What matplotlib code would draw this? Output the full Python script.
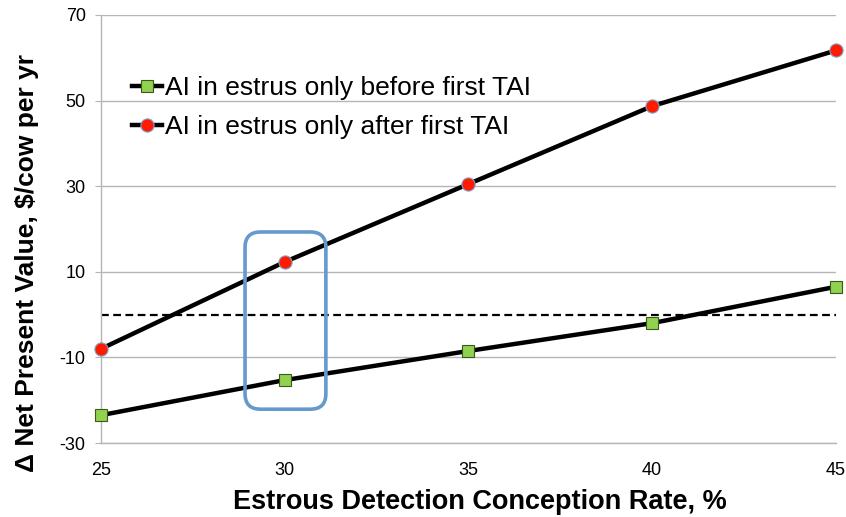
import matplotlib
matplotlib.use("Agg")
import matplotlib.pyplot as plt
from matplotlib.patches import FancyBboxPatch

plt.rcParams['font.family'] = ['Liberation Sans', 'DejaVu Sans']
plt.rcParams['axes.unicode_minus'] = False

rates = [25, 30, 35, 40, 45]
before_first_tai = [-23.5, -15.3, -8.5, -2.0, 6.5]
after_first_tai = [-8.0, 12.3, 30.5, 48.7, 61.7]
baseline = [0, 0]
yticks = [-30, -10, 10, 30, 50, 70]
xticks = [25, 30, 35, 40, 45]
labels = ["AI in estrus only before first TAI", "AI in estrus only after first TAI"]

fig = plt.figure(figsize=(8.46, 5.17), dpi=100)
ax = fig.add_axes([0.1194, 0.1431, 0.8686, 0.828])

ax.plot([rates[0], rates[-1]], baseline, color='black', lw=1.6, ls=(0, (3.5, 2)), zorder=2)
ax.plot(rates, before_first_tai, color='black', lw=3.2, marker='s', ms=8.5,
        mfc='#92d050', mec='#3a5a1a', mew=0.8, label=labels[0], zorder=3, clip_on=False)
ax.plot(rates, after_first_tai, color='black', lw=3.2, marker='o', ms=9.5,
        mfc='#ff1a00', mec='#7fa3d0', mew=0.8, label=labels[1], zorder=3, clip_on=False)

# highlight box
box = FancyBboxPatch((28.92, -22.1), 2.2, 41.4,
                     boxstyle="round,pad=0,rounding_size=0.42",
                     mutation_aspect=8.6, fill=False, ec='#6699cc', lw=2.6, zorder=4)
ax.add_patch(box)

ax.set_xlim(25, 45)
ax.set_ylim(-30, 70)
ax.set_yticks(yticks)
ax.set_xticks(xticks)
ax.yaxis.grid(True, color='#b5b5b5', lw=1.0)
ax.set_axisbelow(True)
for s in ['top', 'right']:
    ax.spines[s].set_visible(False)
ax.spines['left'].set_color('#b5b5b5')
ax.spines['bottom'].set_color('#b5b5b5')
ax.spines['left'].set_linewidth(1.0)
ax.spines['bottom'].set_linewidth(1.0)
ax.tick_params(axis='y', length=4, color='#b5b5b5', labelsize=13, pad=7)
ax.tick_params(axis='x', length=0, labelsize=13, pad=14)

ax.set_xlabel("Estrous Detection Conception Rate, %", fontsize=19.5, fontweight='bold')
ax.set_ylabel("Δ Net Present Value, $/cow per yr", fontsize=19, fontweight='bold')
ax.xaxis.set_label_coords(0.516, -0.108)
ax.yaxis.set_label_coords(-0.084, 0.42)

leg = ax.legend(loc='upper left', bbox_to_anchor=(0.042, 0.857), frameon=False, fontsize=19,
                handlelength=1.15, handletextpad=0.1, labelspacing=0.56, borderaxespad=0,
                borderpad=0)

fig.savefig("out.png", dpi=100)
